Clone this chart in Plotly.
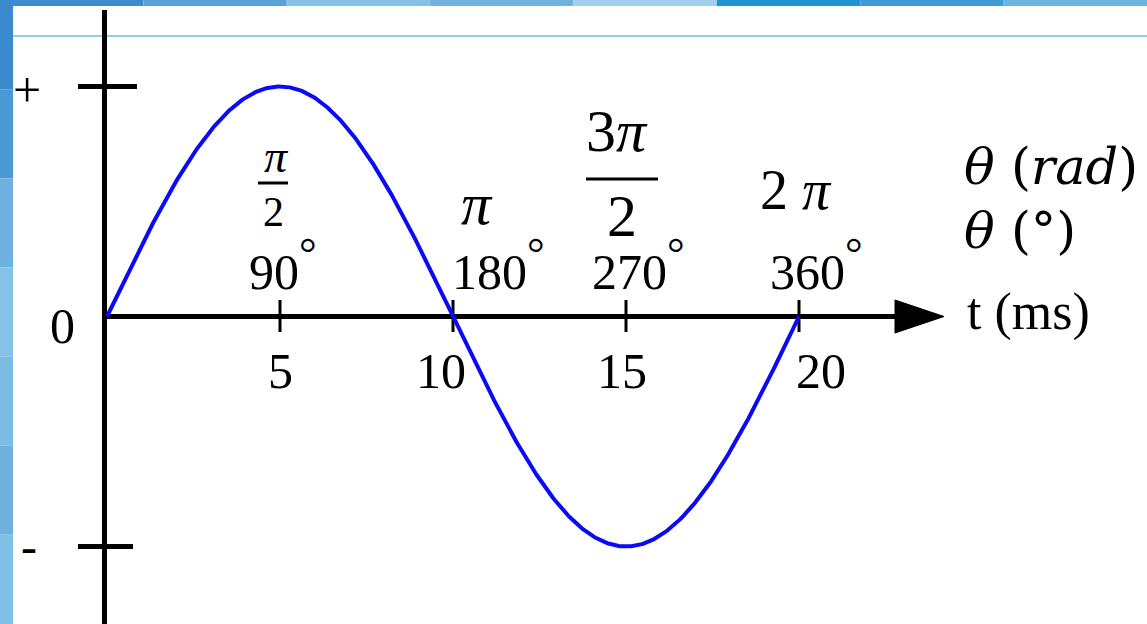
import numpy as np
import plotly.graph_objects as go

# Waveform: one full cycle of a sinusoid, 20 ms period
PERIOD_MS = 20
PEAK = 1.0

# Time axis ticks and their angle equivalents
TICK_MS = [5, 10, 15, 20]
TICK_LABELS = ["5", "10", "15", "20"]
DEG_LABELS = ["90", "180", "270", "360"]

# Vertical axis levels
LEVEL_VALUES = [1, 0, -1]
LEVEL_LABELS = ["+", "0", "-"]

# ---- canvas / scale setup ----
W, H = 1147, 624
X0_PX, PX_PER_MS = 107.0, 34.6
Y0_PX, PX_PER_UNIT = 316.5, 230.0


def xd(px):
    return (px - X0_PX) / PX_PER_MS


def yd(py):
    return (Y0_PX - py) / PX_PER_UNIT


def tick_px(t):
    return X0_PX + t * PX_PER_MS


SERIF = "Liberation Serif"
BLUE = "#0a0af5"

t = np.linspace(0, PERIOD_MS, 600)
v = PEAK * np.sin(2 * np.pi * t / PERIOD_MS)

fig = go.Figure()
fig.add_trace(go.Scatter(x=t, y=v, mode="lines",
                         line=dict(color=BLUE, width=4), hoverinfo="skip"))

shapes = []

# slide frame: top band, left band, thin rule under the title area
top_cols = ["#3b8ccf", "#5aa3d9", "#86c0e6", "#6fb2e0", "#9fd0f0", "#1f93d3", "#3d9ad6", "#6ab4e2"]
for i, c in enumerate(top_cols):
    shapes.append(dict(type="rect", xref="paper", yref="paper",
                       x0=i / len(top_cols), x1=(i + 1) / len(top_cols),
                       y0=1 - 6 / H, y1=1, line=dict(width=0), fillcolor=c, layer="above"))
left_cols = ["#3a8bcd", "#4a98d4", "#6eb0e0", "#86c2e8", "#7cbbe5", "#6eb0de", "#80c0e8"]
for i, c in enumerate(left_cols):
    shapes.append(dict(type="rect", xref="paper", yref="paper",
                       x0=0, x1=13 / W,
                       y0=1 - (i + 1) / len(left_cols), y1=1 - i / len(left_cols),
                       line=dict(width=0), fillcolor=c, layer="above"))
shapes.append(dict(type="line", xref="paper", yref="paper",
                   x0=13 / W, x1=1, y0=1 - 36 / H, y1=1 - 36 / H,
                   line=dict(color="#92cdea", width=2), layer="below"))

# axes
shapes.append(dict(type="line", x0=xd(104.5), x1=xd(104.5), y0=yd(H), y1=yd(10),
                   line=dict(color="black", width=5), layer="below"))
shapes.append(dict(type="line", x0=xd(104), x1=xd(898), y0=0, y1=0,
                   line=dict(color="black", width=5), layer="below"))
shapes.append(dict(type="path",
                   path=f"M {xd(895)},{yd(300)} L {xd(944)},{yd(316.5)} L {xd(895)},{yd(333)} Z",
                   fillcolor="black", line=dict(color="black", width=1), layer="below"))

# level ticks on the vertical axis
for val, right_px in zip([LEVEL_VALUES[0], LEVEL_VALUES[2]], [137, 133]):
    shapes.append(dict(type="line", x0=xd(78), x1=xd(right_px), y0=val, y1=val,
                       line=dict(color="black", width=5), layer="below"))

# time ticks crossing the horizontal axis
for tk in TICK_MS:
    shapes.append(dict(type="line", x0=tk, x1=tk, y0=yd(300), y1=yd(332),
                       line=dict(color="black", width=3), layer="below"))

ann = []


def text(xp, yp, s, size, xanchor="center", yanchor="middle", italic=False, family=SERIF):
    ann.append(dict(x=xd(xp), y=yd(yp), text=s, showarrow=False,
                    xanchor=xanchor, yanchor=yanchor,
                    font=dict(family=family, size=size, color="black",
                              style="italic" if italic else "normal")))


# time tick labels
label_dx = [0, -12, -4, 22]
for tk, lab, dx in zip(TICK_MS, TICK_LABELS, label_dx):
    text(tick_px(tk) + dx, 371, lab, 50)

# degree labels with a raised degree ring
deg_left = [-33, -3, -36, -31]
DEG_SIGN = "<span style='font-size:44px;baseline-shift:21px'>°</span>"
for tk, lab, dx in zip(TICK_MS, DEG_LABELS, deg_left):
    text(tick_px(tk) + dx, 264, lab + DEG_SIGN, 50, xanchor="left")

# radian labels
text(276, 156, "π", 46, italic=True)
shapes.append(dict(type="line", x0=xd(258), x1=xd(288), y0=yd(183), y1=yd(183),
                   line=dict(color="black", width=3)))
text(273, 212, "2", 42)

text(477, 204, "π", 60, italic=True)

text(617, 131, "3<i>π</i>", 60)
shapes.append(dict(type="line", x0=xd(586), x1=xd(658), y0=yd(179), y1=yd(179),
                   line=dict(color="black", width=3)))
text(622, 216, "2", 60)

text(796, 190, "2 <i>π</i>", 56)

# right-hand axis legend
text(962, 166, "<i>θ</i> (<i>rad</i>)", 51, xanchor="left", family="DejaVu Serif")
text(962, 230, "<i>θ</i> (°)", 51, xanchor="left", family="DejaVu Serif")
text(965, 312, "t (ms)", 52, xanchor="left")

# vertical-axis level labels
text(27, 90, LEVEL_LABELS[0], 50)
text(62, 326, LEVEL_LABELS[1], 50)
text(29, 546, LEVEL_LABELS[2], 48)

fig.update_layout(
    width=W, height=H, autosize=False,
    margin=dict(l=0, r=0, t=0, b=0, pad=0),
    paper_bgcolor="white", plot_bgcolor="white",
    showlegend=False,
    xaxis=dict(range=[xd(0), xd(W)], visible=False, fixedrange=True),
    yaxis=dict(range=[yd(H), yd(0)], visible=False, fixedrange=True),
    shapes=shapes, annotations=ann,
)

fig.write_html("out.html", config={"displayModeBar": False})
